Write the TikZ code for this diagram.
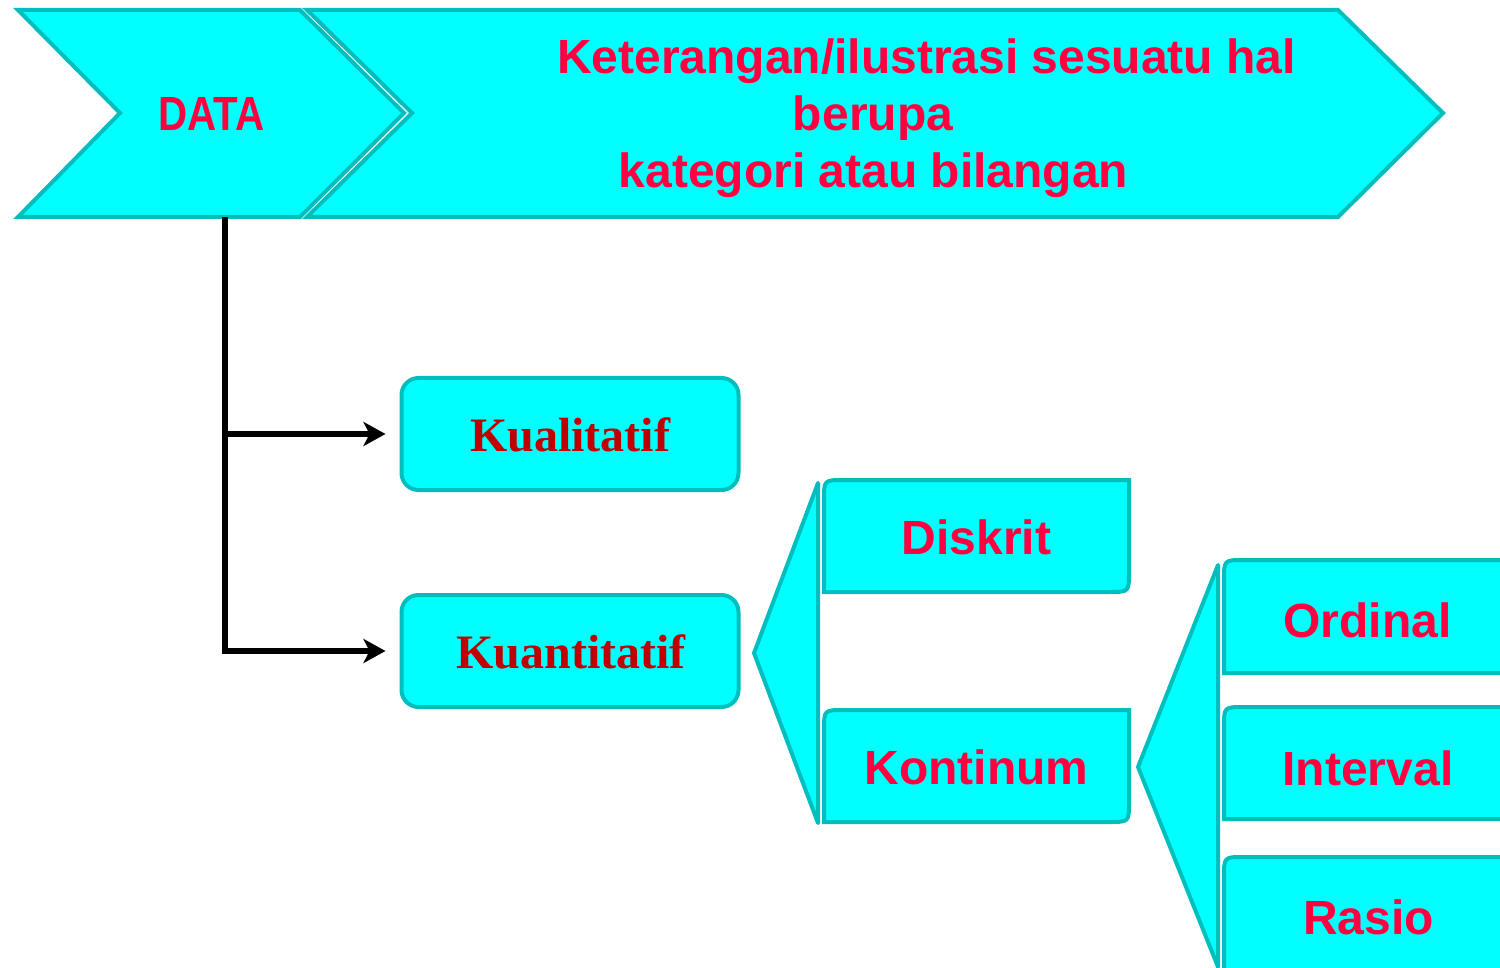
\documentclass[tikz,border=0pt]{standalone}
\usepackage{fontspec}
\setmainfont{Liberation Serif}
\setsansfont{Liberation Sans}
\usetikzlibrary{arrows.meta,calc}
\definecolor{cyanfill}{RGB}{0,255,255}
\definecolor{tealline}{RGB}{0,190,190}
\definecolor{txtred}{RGB}{255,0,64}
\definecolor{darkred}{RGB}{192,0,0}
\tikzset{
  shapestyle/.style={fill=cyanfill,draw=tealline,line width=4pt,line join=miter},
  triangstyle/.style={fill=cyanfill,draw=tealline,line width=4pt,line join=round},
  sanslabel/.style={anchor=base,text=txtred,font=\sffamily\bfseries\fontsize{48}{57}\selectfont,inner sep=0pt},
  seriflabel/.style={anchor=base,text=darkred,font=\rmfamily\bfseries\fontsize{48}{57}\selectfont,inner sep=0pt},
  roundbox/.style={shapestyle,rounded corners=17pt,minimum width=337pt,minimum height=112pt,inner sep=0pt},
  conn/.style={line width=6pt,draw=black},
  connarrow/.style={conn,-{Stealth[length=22pt,width=24pt,inset=6pt]}}
}
\begin{document}
\begin{tikzpicture}[x=1pt,y=-1pt]
\useasboundingbox (0,0) rectangle (1500,968);
\clip (0,0) rectangle (1500,968);
\fill[white] (0,0) rectangle (1500,968);

% big chevron
\draw[shapestyle] (307,10) -- (1338,10) -- (1443,113) -- (1338,217) -- (307,217) -- (412,113) -- cycle;
% DATA chevron
\draw[shapestyle] (18,10) -- (300,10) -- (404,113) -- (300,217) -- (18,217) -- (120,113) -- cycle;

\node[sanslabel] (data) at (211.5,131) {\scalebox{0.84}[1]{DATA}};
\node[sanslabel] (ket1) at (926.5,74) {Keterangan/ilustrasi sesuatu hal};
\node[sanslabel] (ket2) at (873,131) {berupa};
\node[sanslabel] (ket3) at (873.5,188) {kategori atau bilangan};

% level 1 boxes
\node[roundbox] (kual) at (570,434) {};
\node[roundbox] (kuan) at (570,651) {};
\node[seriflabel] (kualt) at (570,451) {Kualitatif};
\node[seriflabel] (kuant) at (571,668) {Kuantitatif};

% connectors
\coordinate (stem) at (225,217);
\draw[conn] (stem) -- (stem |- kual.west);
\draw[connarrow,shorten >=14pt] (stem) |- (kuan.west);
\draw[connarrow,shorten >=14pt] (stem |- kual.west) -- (kual.west);

% level 2 group
\draw[triangstyle] (818,483) -- (754,653) -- (818,823) -- cycle;
\draw[shapestyle] (824,592) -- (824,500) .. controls (824,480) .. (844,480) -- (1129,480) -- (1129,572) .. controls (1129,592) .. (1109,592) -- cycle;
\draw[shapestyle] (824,822) -- (824,730) .. controls (824,710) .. (844,710) -- (1129,710) -- (1129,802) .. controls (1129,822) .. (1109,822) -- cycle;
\node[sanslabel] (diskrit) at (976.5,554) {Diskrit};
\node[sanslabel] (kontinum) at (976.5,784) {Kontinum};

% level 3 group
\draw[triangstyle] (1218,565) -- (1138,767) -- (1218,967) -- cycle;
\draw[shapestyle] (1224,673) -- (1224,580) .. controls (1224,560) .. (1244,560) -- (1540,560) -- (1540,673) -- cycle;
\draw[shapestyle] (1224,819) -- (1224,727) .. controls (1224,707) .. (1244,707) -- (1540,707) -- (1540,819) -- cycle;
\draw[shapestyle] (1224,990) -- (1224,877) .. controls (1224,857) .. (1244,857) -- (1540,857) -- (1540,990) -- cycle;
\node[sanslabel] (ordinal) at (1367.5,637) {Ordinal};
\node[sanslabel] (interval) at (1368,785) {Interval};
\node[sanslabel] (rasio) at (1368.5,934) {Rasio};
\end{tikzpicture}
\end{document}
